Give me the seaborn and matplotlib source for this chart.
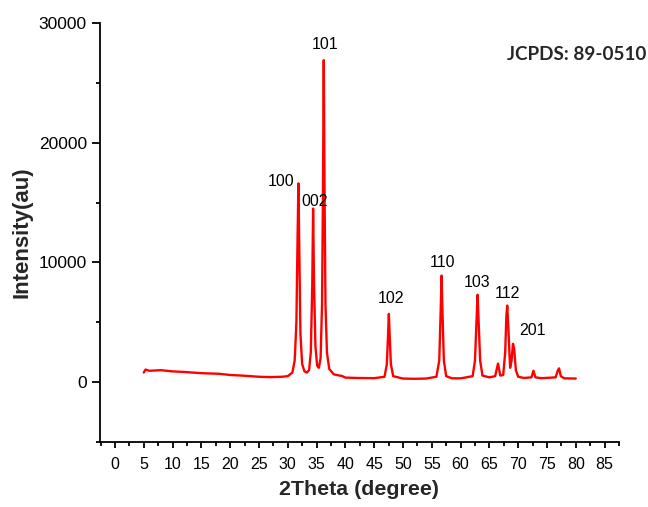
import numpy as np
import pandas as pd
import seaborn as sns
import matplotlib.pyplot as plt
from matplotlib.ticker import MultipleLocator

# XRD pattern (2theta in degrees, intensity in a.u.)
two_theta = [5.0, 5.3, 6, 8, 10, 12, 15, 18, 20, 22, 25, 27, 29, 30,
             30.8, 31.2, 31.5, 31.7, 31.85, 32.0, 32.2, 32.5, 32.9, 33.3,
             33.7, 34.0, 34.25, 34.4, 34.55, 34.8, 35.1, 35.4,
             35.7, 35.95, 36.1, 36.25, 36.4, 36.55, 36.8, 37.2, 38, 39, 39.5, 40,
             42, 45, 46.8, 47.2, 47.4, 47.55, 47.7, 47.9, 48.3,
             50, 52, 54, 55.8, 56.3, 56.55, 56.7, 56.85, 57.1, 57.5, 58.5,
             60, 61, 62.1, 62.5, 62.8, 62.95, 63.1, 63.4, 63.8,
             65, 66.0, 66.5, 66.9, 67.4, 67.75, 67.95, 68.1, 68.3, 68.6,
             68.85, 69.1, 69.3, 69.6, 70.0, 71, 72.3, 72.65, 73.0, 74,
             76.5, 76.9, 77.1, 77.4, 78, 80]
intensity = [800, 1050, 950, 1000, 900, 850, 750, 700, 600, 550, 450, 420, 450, 500,
             800, 1800, 5000, 12000, 16600, 11000, 4000, 1500, 900, 800,
             1000, 2500, 8000, 14500, 8500, 3000, 1400, 1200,
             2000, 6500, 15000, 26900, 15000, 6500, 2500, 1100, 650, 550, 500, 380,
             350, 330, 450, 1500, 3800, 5700, 3800, 1500, 500,
             300, 280, 300, 450, 1800, 6000, 8900, 6000, 1800, 500, 320,
             320, 400, 500, 1800, 5500, 7300, 5500, 1800, 550,
             400, 500, 1550, 550, 600, 2500, 5500, 6400, 4500, 1200,
             1800, 3200, 2800, 1000, 450, 350, 400, 950, 400, 330,
             400, 1000, 1150, 500, 320, 300]

# peak (hkl) labels
hkl = ["100", "002", "101", "102", "110", "103", "112", "201"]
hkl_x = [28.9, 34.6, 36.4, 48.0, 56.9, 62.9, 68.1, 72.5]
hkl_y = [16800, 15100, 28200, 7000, 10000, 8300, 7400, 4300]

df = pd.DataFrame({"2theta": two_theta, "I": intensity})

sns.set_style("ticks")
plt.rcParams["font.family"] = ["Liberation Sans", "DejaVu Sans"]

fig = plt.figure(figsize=(6.48, 5.07), dpi=100)
ax = fig.add_axes([0.1543, 0.1282, 0.8009, 0.8264])

sns.lineplot(data=df, x="2theta", y="I", color="#ff0000", linewidth=1.7, ax=ax)

for lab, lx, ly in zip(hkl, hkl_x, hkl_y):
    ax.text(lx, ly, lab, ha="center", va="center", fontsize=11.5, color="black")

ax.set_xlim(-2.6, 87.5)
ax.set_ylim(-5000, 30000)
ax.xaxis.set_major_locator(MultipleLocator(5))
ax.xaxis.set_minor_locator(MultipleLocator(2.5))
ax.set_yticks([0, 10000, 20000, 30000])
ax.yaxis.set_minor_locator(MultipleLocator(5000))
ax.tick_params(axis="x", which="major", direction="out", length=4.5, width=1.3, pad=6,
               labelsize=11.5, color="black", labelcolor="black")
ax.tick_params(axis="y", which="major", direction="out", length=6, width=1.3, pad=3.5,
               labelsize=12.5, color="black", labelcolor="black")
ax.tick_params(which="minor", direction="out", length=3, width=1.3, color="black")

for s in ["top", "right"]:
    ax.spines[s].set_visible(False)
for s in ["left", "bottom"]:
    ax.spines[s].set_linewidth(1.3)
    ax.spines[s].set_color("black")

ax.set_xlabel("2Theta (degree)", fontsize=15.4, fontweight="bold", labelpad=6)
ax.set_ylabel("Intensity(au)", fontsize=16, fontweight="bold", labelpad=4)

fig.text(0.890, 0.8925, "JCPDS: 89-0510", ha="center", va="center",
         fontsize=13.6, fontweight="bold", family=["Lato", "DejaVu Sans"])

fig.savefig("out.png", dpi=100)
